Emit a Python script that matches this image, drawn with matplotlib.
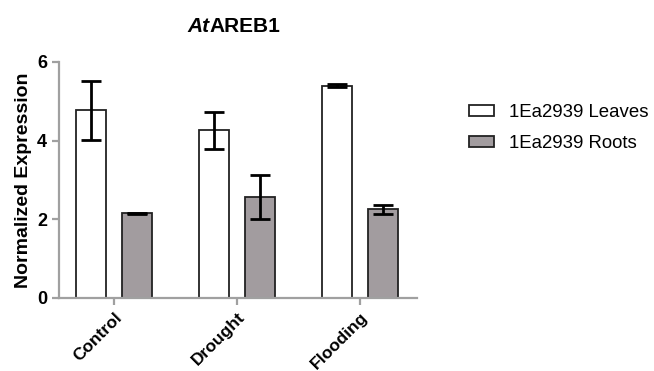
import numpy as np
import matplotlib.pyplot as plt

plt.rcParams['font.family'] = ['Liberation Sans', 'DejaVu Sans']

# data
conditions = ['Control', 'Drought', 'Flooding']
leaves_mean = [4.77, 4.27, 5.40]
leaves_err = [0.75, 0.47, 0.04]
roots_mean = [2.15, 2.56, 2.25]
roots_err = [0.02, 0.56, 0.12]
series_names = ['1Ea2939 Leaves', '1Ea2939 Roots']

x = np.arange(len(conditions))
w = 0.244
off = 0.187

fig = plt.figure(figsize=(6.54, 3.71), dpi=100)
ax = fig.add_axes([0.0902, 0.1968, 0.5474, 0.6361])

err_kw = dict(ecolor='black', elinewidth=2, capsize=7, capthick=2)
ax.bar(x - off, leaves_mean, w, yerr=leaves_err, color='white',
       edgecolor='#222222', linewidth=1.3, label=series_names[0],
       error_kw=err_kw, zorder=2)
ax.bar(x + off, roots_mean, w, yerr=roots_err, color='#a29c9f',
       edgecolor='#222222', linewidth=1.3, label=series_names[1],
       error_kw=err_kw, zorder=2)

ax.set_xlim(-0.447, 2.463)
ax.set_ylim(0, 6)
ax.set_yticks([0, 2, 4, 6])
ax.set_xticks(x)
ax.set_xticklabels(conditions, rotation=45, ha='right', rotation_mode='anchor',
                   fontsize=12.5, fontweight='bold')
for lab in ax.get_yticklabels():
    lab.set_fontweight('bold')
    lab.set_fontsize(13)

for s in ['top', 'right']:
    ax.spines[s].set_visible(False)
for s in ['left', 'bottom']:
    ax.spines[s].set_color('#a0a0a0')
    ax.spines[s].set_linewidth(1.6)
ax.tick_params(colors='#a0a0a0', width=1.6, length=5, labelcolor='black')

ax.set_ylabel('Normalized Expression', fontsize=14, fontweight='bold')

# title: italic "At" + bold "AREB1"
fig.text(209.5 / 654, 1 - 27 / 371, 'At', ha='right', va='center',
         fontsize=15, fontweight='bold', style='italic')
fig.text(209.5 / 654, 1 - 27 / 371, 'AREB1', ha='left', va='center',
         fontsize=15, fontweight='bold')

fig.legend(loc='upper left', bbox_to_anchor=(0.692, 0.765), frameon=False,
           fontsize=13.4, handlelength=1.3, handleheight=0.5,
           handletextpad=0.85, labelspacing=0.76)

fig.savefig('out.png')
